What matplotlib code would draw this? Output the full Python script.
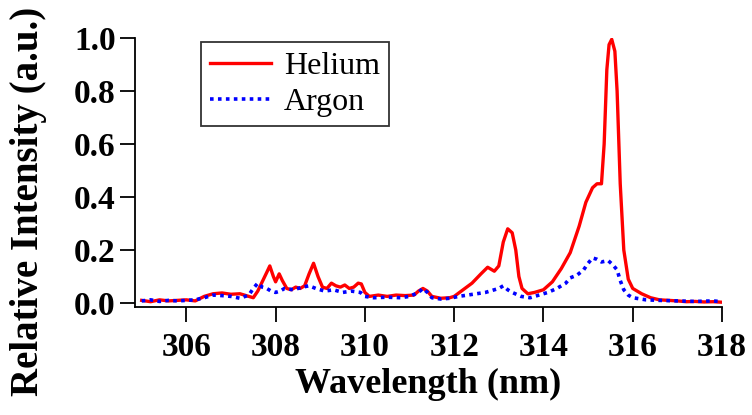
import matplotlib
matplotlib.use("Agg")
import matplotlib.pyplot as plt

he_x = [305.0, 305.2, 305.4, 305.6, 305.8, 306.0, 306.2, 306.4, 306.6, 306.8, 307.0, 307.2, 307.4, 307.5,
        307.6, 307.7, 307.8, 307.87, 307.95, 308.0, 308.08, 308.15, 308.25, 308.35, 308.45, 308.55, 308.65,
        308.75, 308.85, 308.95, 309.05, 309.15, 309.25, 309.35, 309.45, 309.55, 309.65, 309.75, 309.85,
        309.92, 310.0, 310.1, 310.3, 310.5, 310.7, 310.9, 311.1, 311.2, 311.3, 311.4, 311.5, 311.7, 311.9,
        312.0, 312.2, 312.4, 312.6, 312.75, 312.9, 313.0, 313.1, 313.2, 313.3, 313.38, 313.45, 313.52,
        313.65, 313.8, 314.0, 314.2, 314.4, 314.6, 314.8, 314.95, 315.1, 315.2, 315.3, 315.36, 315.42,
        315.47, 315.53, 315.6, 315.65, 315.72, 315.8, 315.9, 316.0, 316.2, 316.4, 316.6, 316.8, 317.0,
        317.2, 317.4, 317.6, 317.8, 318.0]
he_y = [0.010, 0.005, 0.012, 0.008, 0.010, 0.012, 0.008, 0.025, 0.035, 0.038, 0.033, 0.035, 0.025, 0.020,
        0.045, 0.080, 0.115, 0.140, 0.100, 0.080, 0.110, 0.085, 0.055, 0.050, 0.060, 0.055, 0.065,
        0.110, 0.150, 0.100, 0.060, 0.055, 0.075, 0.065, 0.060, 0.068, 0.055, 0.060, 0.075,
        0.072, 0.040, 0.025, 0.030, 0.025, 0.030, 0.028, 0.030, 0.045, 0.055, 0.045, 0.025, 0.018, 0.020,
        0.025, 0.050, 0.075, 0.110, 0.135, 0.120, 0.140, 0.230, 0.280, 0.265, 0.200, 0.100, 0.055,
        0.035, 0.040, 0.050, 0.080, 0.130, 0.190, 0.290, 0.380, 0.435, 0.450, 0.450, 0.600, 0.880,
        0.975, 0.995, 0.950, 0.800, 0.450, 0.200, 0.090, 0.055, 0.035, 0.020, 0.012, 0.010, 0.008,
        0.005, 0.006, 0.004, 0.005, 0.003]

ar_x = [305.0, 305.2, 305.4, 305.6, 305.8, 306.0, 306.2, 306.4, 306.6, 306.8, 307.0, 307.2, 307.4, 307.5,
        307.6, 307.7, 307.8, 307.9, 308.0, 308.1, 308.2, 308.4, 308.6, 308.75, 308.9, 309.1, 309.3, 309.5,
        309.7, 309.9, 310.0, 310.2, 310.5, 310.8, 311.0, 311.2, 311.3, 311.4, 311.5, 311.7, 311.9, 312.1,
        312.3, 312.5, 312.7, 312.9, 313.0, 313.1, 313.2, 313.3, 313.5, 313.7, 313.9, 314.1, 314.3, 314.5,
        314.6, 314.75, 314.9, 315.0, 315.1, 315.2, 315.3, 315.45, 315.55, 315.65, 315.72, 315.8, 315.9,
        316.0, 316.3, 316.6, 317.0, 317.4, 317.8, 318.0]
ar_y = [0.008, 0.012, 0.006, 0.010, 0.008, 0.010, 0.012, 0.020, 0.030, 0.028, 0.025, 0.018, 0.030, 0.055,
        0.075, 0.060, 0.055, 0.045, 0.040, 0.045, 0.055, 0.050, 0.060, 0.065, 0.055, 0.045, 0.050, 0.040,
        0.045, 0.040, 0.025, 0.020, 0.022, 0.020, 0.025, 0.040, 0.055, 0.040, 0.020, 0.015, 0.018, 0.025,
        0.030, 0.035, 0.040, 0.050, 0.055, 0.065, 0.050, 0.040, 0.025, 0.020, 0.030, 0.040, 0.055, 0.075,
        0.095, 0.105, 0.125, 0.150, 0.170, 0.165, 0.155, 0.160, 0.145, 0.125, 0.085, 0.050, 0.030,
        0.020, 0.012, 0.010, 0.008, 0.006, 0.008, 0.005]

x_ticks = [306, 308, 310, 312, 314, 316, 318]
y_ticks = [0.0, 0.2, 0.4, 0.6, 0.8, 1.0]

plt.rcParams['font.family'] = ['Liberation Serif', 'DejaVu Serif']

fig = plt.figure(figsize=(7.52, 4.15), dpi=100)
ax = fig.add_axes([135/752, 1-307/415, 587/752, 269/415])

ax.plot(he_x, he_y, color='#ff0000', lw=2.4, label='Helium')
ax.plot(ar_x, ar_y, color='#0000ff', lw=2.6, ls=(0, (1, 1.2)), label='Argon')

ax.set_xlim(304.85, 318)
ax.set_ylim(-0.015, 1.0)
ax.set_xticks(x_ticks)
ax.set_xticklabels([str(t) for t in x_ticks])
ax.set_yticks(y_ticks)
ax.set_yticklabels([f"{t:.1f}" for t in y_ticks])

for s in ['top', 'right']:
    ax.spines[s].set_visible(False)
for s in ['left', 'bottom']:
    ax.spines[s].set_linewidth(1.3)

ax.tick_params(direction='out', length=11, width=1.3, labelsize=24)
ax.tick_params(axis='x', pad=7)
ax.tick_params(axis='y', pad=3)
for lab in ax.get_xticklabels() + ax.get_yticklabels():
    lab.set_fontweight('bold')

ax.set_xlabel('Wavelength (nm)', fontsize=26, fontweight='bold')
ax.xaxis.set_label_coords(0.5, -0.225)
ax.set_ylabel('Relative Intensity (a.u.)', fontsize=28, fontweight='bold')
ax.yaxis.set_label_coords(-0.15, 0.394)

leg = ax.legend(loc='upper left', bbox_to_anchor=(0.112, 0.985), fontsize=23, frameon=True,
                fancybox=False, edgecolor='black', handlelength=1.9, handletextpad=0.4,
                borderpad=0.3, labelspacing=0.2, borderaxespad=0)
leg.get_frame().set_linewidth(1.3)

fig.savefig('out.png', dpi=100)
